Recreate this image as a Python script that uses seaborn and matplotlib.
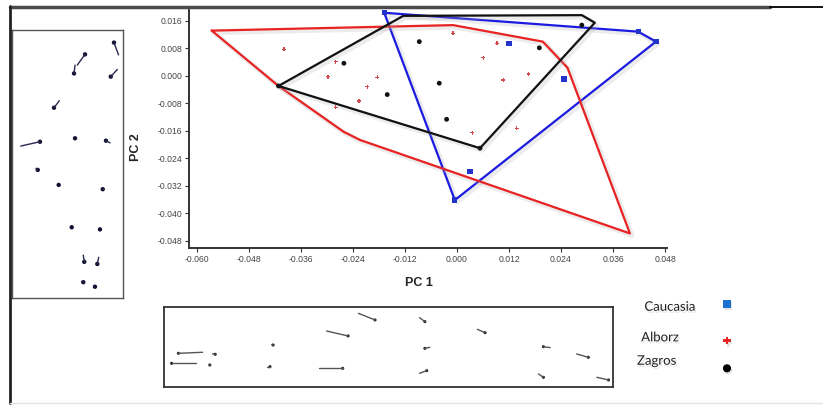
import numpy as np
import pandas as pd
import matplotlib
matplotlib.use('Agg')
import matplotlib.pyplot as plt
import matplotlib.patheffects as pe
from matplotlib.lines import Line2D
import seaborn as sns

# --- main PCA scatter data (PC1, PC2) ---
caucasia_hull_x = [-0.0168, 0.0418, 0.0459, -0.0005, -0.0168]
caucasia_hull_y = [0.0184, 0.0129, 0.0100, -0.0361, 0.0184]
caucasia_x = [-0.0168, 0.0418, 0.0459, -0.0005, 0.0120, 0.0247, 0.0030]
caucasia_y = [0.0184, 0.0129, 0.0100, -0.0361, 0.0095, -0.0009, -0.0278]

alborz_hull_x = [-0.0566, -0.0009, 0.0198, 0.0255, 0.0399, -0.0224, -0.0262, -0.0412, -0.0566]
alborz_hull_y = [0.0132, 0.0148, 0.0100, 0.0024, -0.0458, -0.0186, -0.0162, -0.0029, 0.0132]
alborz_x = [-0.0399, -0.0280, -0.0298, -0.0184, -0.0207, -0.0226, -0.0280, -0.0009,
            0.0035, 0.0092, 0.0061, 0.0107, 0.0165, 0.0138]
alborz_y = [0.0078, 0.0042, -0.0002, -0.0004, -0.0031, -0.0073, -0.0091, 0.0124,
            -0.0165, 0.0095, 0.0053, -0.0012, 0.0006, -0.0152]

zagros_hull_x = [-0.0412, -0.0124, 0.0288, 0.0318, 0.0053, -0.0412]
zagros_hull_y = [-0.0029, 0.0175, 0.0177, 0.0155, -0.0210, -0.0029]
zagros_x = [-0.0412, -0.0087, -0.0261, -0.0161, -0.0041, -0.0024, 0.0190, 0.0288, 0.0053]
zagros_y = [-0.0029, 0.0100, 0.0037, -0.0054, -0.0021, -0.0126, 0.0082, 0.0148, -0.0210]

x_ticks = [-0.060, -0.048, -0.036, -0.024, -0.012, 0.000, 0.012, 0.024, 0.036, 0.048]
y_ticks = [0.016, 0.008, 0.000, -0.008, -0.016, -0.024, -0.032, -0.040, -0.048]

# --- deformation grids (landmark = dot, tail = end of the vector) ---
pc2_lm_x = [91.9, 65.9, 56.0, 89.0, 38.0, 25.4, 56.9, 84.7, 23.4, 42.2, 81.8, 53.9, 79.3, 65.2, 76.9, 64.3, 74.8]
pc2_lm_y = [95.3, 90.9, 83.8, 82.6, 71.0, 58.3, 59.6, 58.7, 47.8, 42.2, 40.6, 26.4, 25.6, 13.5, 12.7, 5.9, 4.2]
pc2_tail_x = [96.0, 58.9, 56.9, 94.9, 42.8, 8.1, 56.9, 88.3, 21.8, 42.2, 82.6, 53.9, 79.3, 64.3, 78.2, 62.9, 74.8]
pc2_tail_y = [90.7, 86.9, 86.9, 85.3, 73.6, 56.7, 59.6, 57.9, 48.4, 42.2, 40.8, 26.4, 25.6, 16.0, 15.2, 6.1, 4.2]

pc1_lm_x = [3.2, 11.4, 1.7, 10.2, 24.3, 23.6, 41.0, 47.0, 39.8, 58.1, 58.1, 58.5, 71.5, 84.5, 94.5, 84.5, 99.0]
pc1_lm_y = [42.1, 40.9, 29.6, 27.5, 52.5, 25.4, 63.8, 83.8, 23.3, 81.7, 48.3, 20.4, 67.9, 50.4, 37.1, 12.1, 8.8]
pc1_tail_x = [8.6, 10.8, 7.1, 10.1, 24.0, 23.0, 36.2, 43.3, 34.6, 56.9, 59.2, 56.9, 69.8, 86.0, 91.9, 83.4, 96.4]
pc1_tail_y = [43.4, 41.3, 29.6, 28.4, 52.9, 25.4, 70.0, 92.1, 23.3, 86.7, 49.6, 17.1, 72.1, 49.2, 41.3, 16.3, 12.1]

groups = ['Caucasia', 'Alborz', 'Zagros']

sns.set_style('white')
plt.rcParams['font.family'] = ['Liberation Sans', 'DejaVu Sans']

W, H = 823, 405
fig = plt.figure(figsize=(W / 100, H / 100), dpi=100)


def fbox(x0, y0, x1, y1):
    return [x0 / W, 1 - y1 / H, (x1 - x0) / W, (y1 - y0) / H]


shadow = [pe.SimpleLineShadow(offset=(1.5, -1.5), shadow_color='#aaaaaa', alpha=0.22, linewidth=3.5), pe.Normal()]

# main axes
ax = fig.add_axes(fbox(189, 8, 667, 248))
pts = pd.DataFrame({
    'PC1': caucasia_x + alborz_x + zagros_x,
    'PC2': caucasia_y + alborz_y + zagros_y,
    'group': ['Caucasia'] * len(caucasia_x) + ['Alborz'] * len(alborz_x) + ['Zagros'] * len(zagros_x),
})
hulls = {
    'Caucasia': (caucasia_hull_x, caucasia_hull_y, '#1c1ce0'),
    'Alborz': (alborz_hull_x, alborz_hull_y, '#e82323'),
    'Zagros': (zagros_hull_x, zagros_hull_y, '#111111'),
}
for g in groups:
    hx, hy, c = hulls[g]
    ax.plot(hx, hy, color=c, lw=1.6, path_effects=shadow, zorder=2)

sns.scatterplot(data=pts[pts.group == 'Caucasia'], x='PC1', y='PC2', marker='s', s=14,
                color='#2233cc', edgecolor='none', ax=ax, zorder=3)
sns.scatterplot(data=pts[pts.group == 'Alborz'], x='PC1', y='PC2', marker='P', s=8,
                color='#d04a4a', edgecolor='none', ax=ax, zorder=3)
sns.scatterplot(data=pts[pts.group == 'Zagros'], x='PC1', y='PC2', marker='o', s=12,
                color='#111111', edgecolor='none', ax=ax, zorder=3)

ax.set_xlim(-0.06185, 0.04846)
ax.set_ylim(-0.05004, 0.01978)
ax.set_xticks(x_ticks)
ax.set_yticks(y_ticks)
ax.set_xticklabels([f'{v:.3f}'.replace('-0.000', '0.000') for v in x_ticks])
ax.set_yticklabels([f'{v:.3f}'.replace('-0.000', '0.000') for v in y_ticks])
ax.tick_params(axis='both', labelsize=6.2, labelcolor='#444444', length=3, width=0.8,
               color='#333333', direction='out', pad=2, left=True, bottom=True)
for s in ['top', 'right']:
    ax.spines[s].set_visible(False)
for s in ['left', 'bottom']:
    ax.spines[s].set_color('#333333')
    ax.spines[s].set_linewidth(1.4)
ax.set_xlabel('')
ax.set_ylabel('')
ax.patch.set_alpha(0)
fig.text(419 / W, 1 - 283 / H, 'PC 1', fontsize=9, fontweight='bold', ha='center', va='center')
fig.text(136 / W, 1 - 147 / H, 'PC 2', fontsize=9, fontweight='bold', ha='center', va='center', rotation=90)

# PC2 deformation inset (left)
ax2 = fig.add_axes(fbox(11.7, 30, 123, 298))
for x0, y0, x1, y1 in zip(pc2_lm_x, pc2_lm_y, pc2_tail_x, pc2_tail_y):
    ax2.plot([x0, x1], [y0, y1], color='#2a2a50', lw=1.0)
sns.scatterplot(x=pc2_lm_x, y=pc2_lm_y, s=10, color='#111133', edgecolor='none', ax=ax2)
ax2.set_xlim(0, 100)
ax2.set_ylim(0, 100)
ax2.set_xticks([])
ax2.set_yticks([])
for s in ax2.spines.values():
    s.set_color('#555555')
    s.set_linewidth(1.0)

# PC1 deformation inset (bottom)
ax3 = fig.add_axes(fbox(164, 307, 613, 387))
for x0, y0, x1, y1 in zip(pc1_lm_x, pc1_lm_y, pc1_tail_x, pc1_tail_y):
    ax3.plot([x0, x1], [y0, y1], color='#555555', lw=1.0)
sns.scatterplot(x=pc1_lm_x, y=pc1_lm_y, s=5, color='#222222', edgecolor='none', ax=ax3)
ax3.set_xlim(0, 100)
ax3.set_ylim(0, 100)
ax3.set_xticks([])
ax3.set_yticks([])
for s in ax3.spines.values():
    s.set_color('#333333')
    s.set_linewidth(1.3)

# legend
axl = fig.add_axes(fbox(630, 290, 760, 380))
axl.set_xlim(0, 1)
axl.set_ylim(0, 1)
axl.axis('off')
leg_marker_y = [0.844, 0.437, 0.13]
leg_text_pos = [(0.308, 0.814), (0.231, 0.474), (0.205, 0.214)]
leg_style = [('s', '#1f6fd0', 32), ('P', '#e82323', 30), ('o', '#000000', 34)]
txt_shadow = [pe.withSimplePatchShadow(offset=(1, -1.5), shadow_rgbFace='#999999', alpha=0.25)]
for g, my, (tx, ty), (m, c, sz) in zip(groups, leg_marker_y, leg_text_pos, leg_style):
    axl.scatter([0.746], [my], marker=m, s=sz, color=c, edgecolor='none',
                path_effects=txt_shadow)
    axl.text(tx, ty, g, fontsize=9.5, family=['Lato', 'DejaVu Sans'], color='#222222',
             ha='center', va='center', path_effects=txt_shadow)

# outer frame lines
fig.add_artist(Line2D([10 / W, 770 / W], [1 - 7 / H, 1 - 7 / H], color='#4a4a4a', lw=2.5))
fig.add_artist(Line2D([770 / W, 1.0], [1 - 6.5 / H, 1 - 6.5 / H], color='#000000', lw=1.3))
fig.add_artist(Line2D([9.5 / W, 9.5 / W], [1 - 6 / H, 1 - 403 / H], color='#222222', lw=2.0))
fig.add_artist(Line2D([10 / W, 1.0], [1 - 403 / H, 1 - 403 / H], color='#e2e2e2', lw=1.0))

plt.savefig('out.png', dpi=100)
